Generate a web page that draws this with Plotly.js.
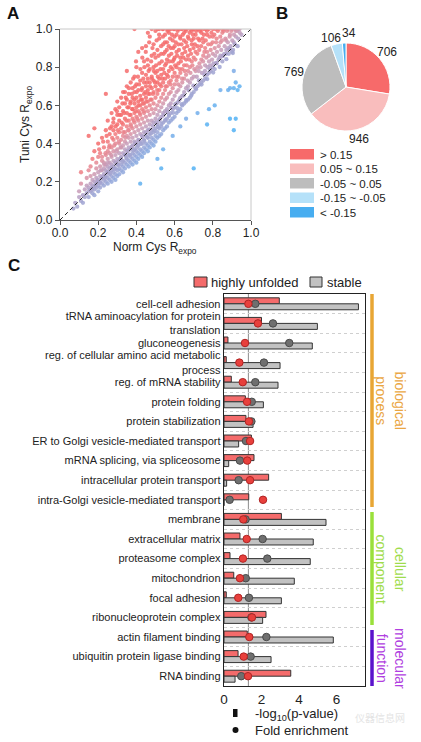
<!DOCTYPE html>
<html><head><meta charset="utf-8">
<script src="https://cdn.plot.ly/plotly-3.0.1.min.js"></script>
<style>html,body{margin:0;padding:0;background:#fff;}#chart{width:421px;height:742px;}</style>
</head><body><div id="chart"></div>
<script>
// ---------- Panel A data: [Norm Cys Rexpo, Tuni Cys Rexpo] ----------
const scatterPoints = [
[0.07,0.06],[0.08,0.09],[0.09,0.07],[0.10,0.12],[0.10,0.15],[0.11,0.10],[0.11,0.19],[0.11,0.25],[0.12,0.13],[0.12,0.09],[0.13,0.16],[0.13,0.12],[0.14,0.18],[0.14,0.14],[0.14,0.22],[0.15,0.12],[0.15,0.17],[0.15,0.44],[0.15,0.26],
[0.16,0.15],[0.16,0.19],[0.16,0.23],[0.16,0.28],[0.17,0.14],[0.17,0.18],[0.17,0.21],[0.17,0.17],[0.17,0.32],[0.18,0.16],[0.18,0.20],[0.18,0.24],[0.18,0.13],[0.18,0.48],[0.18,0.36],[0.19,0.17],[0.19,0.22],[0.19,0.19],[0.19,0.27],[0.19,0.30],[0.20,0.15],[0.20,0.21],[0.20,0.18],[0.20,0.25],[0.20,0.33],[0.20,0.40],
[0.21,0.17],[0.21,0.20],[0.21,0.23],[0.21,0.28],[0.21,0.35],[0.22,0.19],[0.22,0.22],[0.22,0.26],[0.22,0.31],[0.22,0.43],[0.22,0.33],[0.23,0.18],[0.23,0.21],[0.23,0.24],[0.23,0.27],[0.23,0.38],[0.23,0.30],[0.24,0.20],[0.24,0.23],[0.24,0.26],[0.24,0.29],[0.24,0.34],[0.24,0.66],[0.24,0.47],[0.25,0.19],[0.25,0.22],[0.25,0.25],[0.25,0.28],[0.25,0.32],[0.25,0.41],[0.25,0.52],[0.25,0.36],
[0.26,0.21],[0.26,0.24],[0.26,0.27],[0.26,0.30],[0.26,0.35],[0.26,0.45],[0.26,0.39],[0.27,0.20],[0.27,0.23],[0.27,0.26],[0.27,0.29],[0.27,0.33],[0.27,0.38],[0.27,0.49],[0.27,0.56],[0.28,0.22],[0.28,0.25],[0.28,0.28],[0.28,0.31],[0.28,0.36],[0.28,0.42],[0.28,0.47],[0.28,0.53],[0.29,0.21],[0.29,0.24],[0.29,0.27],[0.29,0.30],[0.29,0.34],[0.29,0.40],[0.29,0.45],[0.29,0.58],[0.30,0.23],[0.30,0.26],[0.30,0.29],[0.30,0.32],[0.30,0.37],[0.30,0.43],[0.30,0.50],[0.30,0.55],[0.30,0.62],
[0.31,0.24],[0.31,0.27],[0.31,0.31],[0.31,0.35],[0.31,0.40],[0.31,0.46],[0.31,0.52],[0.31,0.59],[0.32,0.26],[0.32,0.29],[0.32,0.33],[0.32,0.38],[0.32,0.42],[0.32,0.48],[0.32,0.55],[0.32,0.64],[0.33,0.25],[0.33,0.28],[0.33,0.31],[0.33,0.35],[0.33,0.39],[0.33,0.44],[0.33,0.50],[0.33,0.57],[0.33,0.67],[0.34,0.27],[0.34,0.30],[0.34,0.34],[0.34,0.37],[0.34,0.41],[0.34,0.46],[0.34,0.53],[0.34,0.61],[0.34,0.67],[0.35,0.29],[0.35,0.32],[0.35,0.36],[0.35,0.40],[0.35,0.44],[0.35,0.49],[0.35,0.56],[0.35,0.63],[0.35,0.70],[0.35,0.78],
[0.36,0.28],[0.36,0.31],[0.36,0.34],[0.36,0.38],[0.36,0.43],[0.36,0.47],[0.36,0.52],[0.36,0.59],[0.36,0.66],[0.37,0.30],[0.37,0.33],[0.37,0.37],[0.37,0.41],[0.37,0.45],[0.37,0.50],[0.37,0.55],[0.37,0.62],[0.37,0.72],[0.38,0.29],[0.38,0.32],[0.38,0.35],[0.38,0.39],[0.38,0.43],[0.38,0.48],[0.38,0.53],[0.38,0.58],[0.38,0.64],[0.38,0.69],[0.39,0.31],[0.39,0.34],[0.39,0.37],[0.39,0.41],[0.39,0.46],[0.39,0.51],[0.39,0.56],[0.39,0.61],[0.39,0.67],[0.39,0.75],[0.39,1.0],[0.40,0.30],[0.40,0.33],[0.40,0.36],[0.40,0.40],[0.40,0.44],[0.40,0.49],[0.40,0.54],[0.40,0.59],[0.40,0.64],[0.40,0.71],[0.40,0.80],
[0.41,0.32],[0.41,0.35],[0.41,0.39],[0.41,0.42],[0.41,0.47],[0.41,0.52],[0.41,0.57],[0.41,0.62],[0.41,0.68],[0.41,0.88],[0.42,0.34],[0.42,0.37],[0.42,0.41],[0.42,0.45],[0.42,0.50],[0.42,0.55],[0.42,0.60],[0.42,0.65],[0.42,0.73],[0.42,0.19],[0.43,0.33],[0.43,0.36],[0.43,0.40],[0.43,0.44],[0.43,0.48],[0.43,0.53],[0.43,0.58],[0.43,0.63],[0.43,0.69],[0.43,0.77],[0.43,0.90],[0.44,0.35],[0.44,0.38],[0.44,0.42],[0.44,0.46],[0.44,0.51],[0.44,0.56],[0.44,0.61],[0.44,0.66],[0.44,0.72],[0.44,0.83],[0.45,0.37],[0.45,0.40],[0.45,0.44],[0.45,0.49],[0.45,0.54],[0.45,0.59],[0.45,0.64],[0.45,0.70],[0.45,0.76],[0.45,0.91],
[0.46,0.36],[0.46,0.39],[0.46,0.43],[0.46,0.47],[0.46,0.52],[0.46,0.57],[0.46,0.62],[0.46,0.68],[0.46,0.74],[0.46,0.81],[0.46,0.98],[0.47,0.38],[0.47,0.41],[0.47,0.45],[0.47,0.50],[0.47,0.55],[0.47,0.60],[0.47,0.66],[0.47,0.72],[0.47,0.79],[0.47,0.96],[0.48,0.40],[0.48,0.43],[0.48,0.47],[0.48,0.52],[0.48,0.58],[0.48,0.63],[0.48,0.69],[0.48,0.75],[0.48,0.86],[0.48,1.0],[0.49,0.39],[0.49,0.42],[0.49,0.46],[0.49,0.51],[0.49,0.56],[0.49,0.61],[0.49,0.67],[0.49,0.73],[0.49,0.80],[0.49,0.92],[0.50,0.41],[0.50,0.44],[0.50,0.48],[0.50,0.53],[0.50,0.58],[0.50,0.64],[0.50,0.70],[0.50,0.77],[0.50,0.85],[0.50,0.99],
[0.51,0.43],[0.51,0.46],[0.51,0.50],[0.51,0.55],[0.51,0.60],[0.51,0.66],[0.51,0.72],[0.51,0.78],[0.51,0.89],[0.51,0.32],[0.52,0.44],[0.52,0.48],[0.52,0.52],[0.52,0.57],[0.52,0.62],[0.52,0.68],[0.52,0.74],[0.52,0.82],[0.52,0.95],[0.52,1.0],[0.53,0.45],[0.53,0.49],[0.53,0.54],[0.53,0.59],[0.53,0.64],[0.53,0.70],[0.53,0.76],[0.53,0.87],[0.53,0.27],[0.54,0.47],[0.54,0.51],[0.54,0.56],[0.54,0.61],[0.54,0.66],[0.54,0.72],[0.54,0.79],[0.54,0.92],[0.54,0.37],[0.54,1.0],[0.55,0.48],[0.55,0.52],[0.55,0.57],[0.55,0.63],[0.55,0.68],[0.55,0.74],[0.55,0.81],[0.55,0.88],[0.55,0.97],
[0.56,0.49],[0.56,0.53],[0.56,0.58],[0.56,0.64],[0.56,0.70],[0.56,0.76],[0.56,0.84],[0.56,0.93],[0.56,1.0],[0.57,0.51],[0.57,0.55],[0.57,0.60],[0.57,0.66],[0.57,0.72],[0.57,0.78],[0.57,0.86],[0.57,0.98],[0.58,0.52],[0.58,0.56],[0.58,0.61],[0.58,0.67],[0.58,0.73],[0.58,0.80],[0.58,0.90],[0.58,1.0],[0.59,0.53],[0.59,0.58],[0.59,0.63],[0.59,0.69],[0.59,0.75],[0.59,0.83],[0.59,0.94],[0.59,0.44],[0.60,0.54],[0.60,0.59],[0.60,0.65],[0.60,0.71],[0.60,0.77],[0.60,0.85],[0.60,0.91],[0.60,1.0],
[0.61,0.56],[0.61,0.61],[0.61,0.67],[0.61,0.73],[0.61,0.80],[0.61,0.88],[0.61,0.97],[0.62,0.57],[0.62,0.62],[0.62,0.68],[0.62,0.75],[0.62,0.82],[0.62,0.92],[0.62,1.0],[0.63,0.58],[0.63,0.64],[0.63,0.70],[0.63,0.77],[0.63,0.85],[0.63,0.95],[0.63,0.49],[0.64,0.60],[0.64,0.65],[0.64,0.72],[0.64,0.79],[0.64,0.87],[0.64,1.0],[0.65,0.61],[0.65,0.67],[0.65,0.74],[0.65,0.81],[0.65,0.90],[0.65,0.98],
[0.66,0.62],[0.66,0.69],[0.66,0.76],[0.66,0.84],[0.66,0.93],[0.66,0.53],[0.66,1.0],[0.67,0.63],[0.67,0.70],[0.67,0.78],[0.67,0.86],[0.67,0.96],[0.68,0.64],[0.68,0.72],[0.68,0.80],[0.68,0.89],[0.68,1.0],[0.69,0.66],[0.69,0.74],[0.69,0.83],[0.69,0.92],[0.69,0.99],[0.70,0.67],[0.70,0.75],[0.70,0.85],[0.70,0.95],[0.70,0.27],[0.70,1.0],
[0.71,0.69],[0.71,0.78],[0.71,0.88],[0.71,0.97],[0.72,0.56],[0.72,0.70],[0.72,0.80],[0.72,0.91],[0.72,1.0],[0.73,0.71],[0.73,0.82],[0.73,0.94],[0.74,0.72],[0.74,0.84],[0.74,0.98],[0.75,0.73],[0.75,0.86],[0.75,0.93],[0.75,1.0],[0.76,0.74],[0.76,0.81],[0.76,0.90],[0.77,0.50],[0.77,0.76],[0.77,0.88],[0.77,0.97],[0.78,0.58],[0.78,0.77],[0.78,0.83],[0.78,1.0],[0.79,0.78],[0.79,0.92],[0.80,0.80],[0.80,0.87],[0.80,0.96],[0.80,1.0],
[0.81,0.60],[0.81,0.79],[0.81,0.90],[0.82,0.82],[0.82,0.95],[0.83,0.84],[0.83,1.0],[0.84,0.68],[0.84,0.86],[0.84,0.93],[0.85,0.83],[0.85,0.98],[0.86,0.87],[0.86,1.0],[0.87,0.87],[0.87,0.94],[0.88,0.68],[0.88,0.90],[0.89,0.53],[0.89,0.69],[0.89,0.97],[0.90,0.88],[0.90,1.0],[0.91,0.47],[0.91,0.78],[0.91,0.69],[0.91,0.93],[0.92,0.53],[0.92,0.72],[0.92,0.99],[0.93,0.68],[0.93,0.91],[0.94,0.70],[0.94,1.0],[0.95,0.97]
];
const scatterPointsExtra = [
[0.205,0.37],[0.213,0.26],[0.226,0.41],[0.232,0.29],[0.238,0.35],[0.244,0.44],[0.251,0.30],[0.257,0.38],[0.262,0.48],[0.268,0.34],[0.273,0.43],[0.279,0.51],[0.284,0.39],[0.291,0.49],[0.296,0.36],[0.298,0.57],
[0.303,0.47],[0.308,0.41],[0.312,0.55],[0.317,0.38],[0.323,0.51],[0.327,0.61],[0.331,0.46],[0.336,0.56],[0.342,0.43],[0.344,0.64],[0.348,0.52],[0.353,0.59],[0.357,0.47],[0.361,0.69],[0.364,0.55],[0.368,0.61],[0.372,0.49],[0.376,0.66],[0.379,0.58],[0.383,0.74],[0.386,0.52],[0.389,0.63],[0.393,0.70],[0.396,0.57],[0.398,0.83],
[0.402,0.67],[0.405,0.53],[0.408,0.75],[0.411,0.60],[0.414,0.71],[0.417,0.56],[0.421,0.79],[0.424,0.63],[0.427,0.68],[0.431,0.85],[0.434,0.61],[0.436,0.74],[0.439,0.57],[0.442,0.80],[0.446,0.67],[0.449,0.88],[0.452,0.62],[0.455,0.72],[0.458,0.84],[0.461,0.66],[0.464,0.78],[0.467,0.93],[0.471,0.70],[0.474,0.63],[0.477,0.83],[0.481,0.74],[0.484,0.90],[0.487,0.66],[0.491,0.78],[0.494,0.87],[0.497,0.72],
[0.503,0.81],[0.506,0.94],[0.509,0.68],[0.512,0.75],[0.516,0.86],[0.519,0.97],[0.523,0.71],[0.526,0.79],[0.529,0.91],[0.533,0.83],[0.536,0.74],[0.539,0.96],[0.543,0.87],[0.546,0.77],[0.549,0.93],[0.553,0.70],[0.556,0.82],[0.559,0.89],[0.563,0.99],[0.566,0.75],[0.569,0.91],[0.573,0.83],[0.576,0.95],[0.579,0.71],[0.583,0.87],[0.586,0.97],[0.589,0.79],[0.593,0.90],[0.596,0.84],[0.599,0.96],
[0.603,0.81],[0.606,0.93],[0.609,0.75],[0.613,0.86],[0.616,0.99],[0.619,0.71],[0.623,0.89],[0.626,0.79],[0.629,0.96],[0.633,0.83],[0.636,0.92],[0.639,0.74],[0.643,0.97],[0.646,0.85],[0.649,0.94],[0.653,0.78],[0.656,0.88],[0.659,0.99],[0.663,0.81],[0.666,0.91],[0.669,0.73],[0.673,0.95],[0.676,0.84],[0.679,0.98],[0.683,0.77],[0.686,0.87],[0.689,0.94],[0.693,0.81],[0.696,0.97],[0.699,0.90],
[0.703,0.79],[0.706,0.92],[0.709,0.84],[0.713,0.99],[0.716,0.75],[0.719,0.87],[0.723,0.95],[0.726,0.78],[0.729,0.89],[0.733,0.99],[0.736,0.80],[0.739,0.91],[0.743,0.77],[0.746,0.95],[0.749,0.83],[0.753,0.97],[0.756,0.88],[0.759,0.78],[0.763,0.94],[0.766,0.85],[0.769,0.99],[0.773,0.80],[0.776,0.92],[0.779,0.86],[0.783,0.96],[0.786,0.81],[0.789,0.89],[0.793,0.98],[0.796,0.84],[0.799,0.93],
[0.804,0.82],[0.808,0.97],[0.813,0.86],[0.817,0.93],[0.822,0.88],[0.826,0.99],[0.831,0.91],[0.835,0.85],[0.839,0.96],[0.844,0.89],[0.848,0.94],[0.853,0.86],[0.857,0.99],[0.862,0.91],[0.866,0.95],[0.871,0.89],[0.875,0.99],[0.879,0.93],[0.884,0.87],[0.888,0.96],[0.893,0.91],[0.897,0.99],[0.902,0.94],[0.906,0.89],[0.911,0.97],[0.916,0.92],[0.921,0.96],[0.927,0.99],[0.933,0.95],[0.941,0.98],
[0.153,0.155],[0.167,0.162],[0.184,0.178],[0.196,0.201],[0.209,0.195],[0.224,0.227],[0.236,0.221],[0.248,0.251],[0.263,0.247],[0.271,0.275],[0.286,0.268],[0.293,0.302],[0.306,0.288],[0.318,0.322],[0.326,0.305],[0.339,0.341],[0.347,0.326],[0.358,0.362],[0.366,0.341],[0.377,0.384],[0.385,0.364],[0.394,0.402],[0.403,0.381],[0.412,0.418],[0.423,0.398],[0.432,0.437],[0.441,0.414],[0.451,0.458],[0.459,0.433],[0.468,0.474],[0.476,0.452],[0.486,0.492],[0.495,0.468],[0.504,0.511],[0.513,0.487],[0.522,0.528],[0.531,0.503],[0.541,0.547],[0.552,0.524],[0.561,0.566],[0.571,0.545],[0.582,0.588],[0.592,0.561],[0.603,0.607],[0.614,0.585],[0.626,0.631],[0.637,0.606],[0.648,0.652],[0.661,0.628],[0.674,0.679],[0.687,0.651],[0.698,0.703],[0.712,0.684],[0.727,0.731],[0.741,0.709],[0.756,0.761],[0.771,0.738],[0.785,0.789],[0.802,0.772],[0.818,0.823],[0.836,0.801],[0.852,0.858],[0.871,0.842],[0.889,0.893],[0.905,0.874],
[0.512,1.0],[0.537,1.0],[0.571,1.0],[0.594,1.0],[0.633,1.0],[0.655,1.0],[0.694,1.0],[0.736,1.0],[0.762,1.0],[0.814,1.0],[0.848,1.0],[0.879,1.0],[0.916,1.0],[0.932,1.0]
];
const allPoints = scatterPoints.concat(scatterPointsExtra);
const normCys = allPoints.map(p => p[0]);
const tuniCys = allPoints.map(p => p[1]);
const diagonalLine = [0, 1];
const axisTicksA = [0, 0.2, 0.4, 0.6, 0.8, 1.0];

// ---------- Panel B data ----------
const pieLabels = ["> 0.15", "0.05 ~ 0.15", "-0.05 ~ 0.05", "-0.15 ~ -0.05", "< -0.15"];
const pieLegendText = ["&gt; 0.15", "0.05 ~ 0.15", "-0.05 ~ 0.05", "-0.15 ~ -0.05", "&lt; -0.15"];
const pieValues = [706, 946, 769, 106, 34];
const pieColors = ["#f76a6a", "#f9bdbd", "#bdbdbd", "#b5e1f9", "#47adf0"];

// ---------- Panel C data ----------
const goTerms = [
  "cell-cell adhesion",
  "tRNA aminoacylation for protein<br>translation",
  "gluconeogenesis",
  "reg. of cellular amino acid metabolic<br>process",
  "reg. of mRNA stability",
  "protein folding",
  "protein stabilization",
  "ER to Golgi vesicle-mediated transport",
  "mRNA splicing, via spliceosome",
  "intracellular protein transport",
  "intra-Golgi vesicle-mediated transport",
  "membrane",
  "extracellular matrix",
  "proteasome complex",
  "mitochondrion",
  "focal adhesion",
  "ribonucleoprotein complex",
  "actin filament binding",
  "ubiquitin protein ligase binding",
  "RNA binding"
];
const unfoldedLogP = [2.95, 2.0, 0.21, 0.12, 0.39, 1.14, 1.17, 1.46, 1.6, 2.38, 1.32, 3.06, 0.85, 0.32, 0.52, 0.12, 2.24, 1.24, 0.75, 3.56];
const stableLogP   = [7.17, 4.98, 4.71, 2.99, 2.88, 2.1, 1.55, 0.78, 0.25, 0.14, 0, 5.44, 4.76, 4.6, 3.75, 3.06, 2.06, 5.83, 2.51, 0.59];
const unfoldedFE   = [1.3, 1.81, 1.12, 0.82, 1.0, 1.23, 1.33, 1.39, 1.24, 1.39, 2.08, 1.03, 1.21, 1.01, 0.85, 0.76, 1.49, 1.35, 1.05, 1.28];
const stableFE     = [1.67, 2.61, 3.48, 2.13, 1.67, 1.48, 1.46, 1.17, 0.85, 0.78, 0.3, 1.15, 2.06, 2.31, 1.16, 1.33, 1.46, 2.26, 1.42, 0.92];
const pThreshold = 1.3;
const axisTicksC = [0, 2, 4, 6];
const goGroups = ["biological<br>process", "cellular<br>component", "molecular<br>function"];
const seriesNames = ["highly unfolded", "stable"];

// ---------- layout helpers (pixels -> paper) ----------
const W = 421, H = 742;
const px = v => v / W;
const py = v => 1 - v / H;
const FONT = "Liberation Sans, Arial, sans-serif";
const C_RED = "#f46b6b", C_GRAY = "#c2c2c2";

const traces = [];

// Panel A scatter
traces.push({
  type: "scatter", mode: "markers", x: normCys, y: tuniCys, xaxis: "x", yaxis: "y",
  marker: {
    size: 4.3, opacity: 0.85,
    color: allPoints.map(p => p[1] - p[0]),
    cmin: -0.3, cmax: 0.2,
    colorscale: [[0, "#52b2f4"], [0.3, "#74aeea"], [0.44, "#90a8dc"], [0.6, "#aaa2cc"], [0.7, "#c89cb8"], [0.8, "#e28c9a"], [0.9, "#f07c80"], [1, "#f46c6c"]],
    showscale: false
  },
  showlegend: false, hoverinfo: "skip"
});
traces.push({
  type: "scatter", mode: "lines", x: diagonalLine, y: diagonalLine, xaxis: "x", yaxis: "y",
  line: {color: "#222", width: 1, dash: "4px,3px"}, showlegend: false, hoverinfo: "skip"
});

// Panel B pie (value labels drawn as annotations computed from the values)
const pieDomX = [302, 390], pieDomY = [43, 131];
traces.push({
  type: "pie", labels: pieLabels, values: pieValues, sort: false, direction: "clockwise", rotation: 0,
  marker: {colors: pieColors, line: {color: "#ffffff", width: 1}},
  textinfo: "none", automargin: false,
  domain: {x: [px(pieDomX[0]), px(pieDomX[1])], y: [py(pieDomY[1]), py(pieDomY[0])]},
  showlegend: false, hoverinfo: "skip"
});

// Panel C bars
traces.push({
  type: "bar", orientation: "h", x: unfoldedLogP, y: goTerms, xaxis: "x2", yaxis: "y2", name: seriesNames[0],
  marker: {color: C_RED, line: {color: "#333", width: 1}}, showlegend: false, hoverinfo: "skip"
});
traces.push({
  type: "bar", orientation: "h", x: stableLogP, y: goTerms, xaxis: "x2", yaxis: "y2", name: seriesNames[1],
  marker: {color: C_GRAY, line: {color: "#333", width: 1}}, showlegend: false, hoverinfo: "skip"
});
traces.push({
  type: "scatter", mode: "markers", x: stableFE, y: goTerms, xaxis: "x2", yaxis: "y2",
  marker: {size: 7.5, color: "#6f6f6f", line: {color: "#4a4a4a", width: 1}}, showlegend: false, hoverinfo: "skip", cliponaxis: false
});
traces.push({
  type: "scatter", mode: "markers", x: unfoldedFE, y: goTerms, xaxis: "x2", yaxis: "y2",
  marker: {size: 7.5, color: "#e8403c", line: {color: "#b02424", width: 1}}, showlegend: false, hoverinfo: "skip", cliponaxis: false
});

const shapes = [];
const annotations = [];

// pie value labels, placed radially outside each slice (small nudges keep the two thin-slice labels apart)
(function () {
  const cx = (pieDomX[0] + pieDomX[1]) / 2, cy = (pieDomY[0] + pieDomY[1]) / 2;
  const r = (pieDomX[1] - pieDomX[0]) / 2 + 10;
  const total = pieValues.reduce((a, b) => a + b, 0);
  const nudge = [[0, 0], [0, 0], [0, 0], [-4, 4], [5, 0]];
  let cum = 0;
  pieValues.forEach((v, i) => {
    const mid = (cum + v / 2) / total * 2 * Math.PI;
    cum += v;
    annotations.push({xref: "paper", yref: "paper", x: px(cx + r * Math.sin(mid) + nudge[i][0]), y: py(cy - r * Math.cos(mid) + nudge[i][1]),
      text: String(v), showarrow: false, xanchor: "center", yanchor: "middle", font: {size: 12, color: "#222", family: FONT}});
  });
})();

// Panel A light frame (top/right)
shapes.push({type: "line", xref: "paper", yref: "paper", x0: px(60), x1: px(251), y0: py(29), y1: py(29), line: {color: "#c8c8c8", width: 1}});
shapes.push({type: "line", xref: "paper", yref: "paper", x0: px(251), x1: px(251), y0: py(29), y1: py(220), line: {color: "#c8c8c8", width: 1}});

// significance line C
shapes.push({type: "line", xref: "x2", yref: "paper", x0: pThreshold, x1: pThreshold, y0: py(686), y1: py(294), line: {color: "#8c8c8c", width: 1}, layer: "below"});

// pie legend
const legRows = [149, 163.5, 178, 192.5, 207];
pieLegendText.forEach((t, i) => {
  shapes.push({type: "rect", xref: "paper", yref: "paper", x0: px(290), x1: px(314), y0: py(legRows[i] + 10.5), y1: py(legRows[i]), fillcolor: pieColors[i], line: {width: 0}});
  annotations.push({xref: "paper", yref: "paper", x: px(318), y: py(legRows[i] + 5.5), text: t, showarrow: false, xanchor: "left", yanchor: "middle", font: {size: 11.5, color: "#222", family: FONT}});
});

// Panel C top legend
shapes.push({type: "rect", xref: "paper", yref: "paper", x0: px(194), x1: px(207), y0: py(287), y1: py(277), fillcolor: C_RED, line: {color: "#333", width: 1}});
shapes.push({type: "rect", xref: "paper", yref: "paper", x0: px(310), x1: px(322), y0: py(287), y1: py(277), fillcolor: C_GRAY, line: {color: "#333", width: 1}});
annotations.push({xref: "paper", yref: "paper", x: px(209), y: py(282), text: seriesNames[0], showarrow: false, xanchor: "left", yanchor: "middle", font: {size: 13, color: "#222", family: FONT}});
annotations.push({xref: "paper", yref: "paper", x: px(325), y: py(282), text: seriesNames[1], showarrow: false, xanchor: "left", yanchor: "middle", font: {size: 13, color: "#222", family: FONT}});

// Panel C bottom legend
shapes.push({type: "rect", xref: "paper", yref: "paper", x0: px(233), x1: px(237.5), y0: py(717), y1: py(709), fillcolor: "#111", line: {width: 0}});
shapes.push({type: "circle", xref: "paper", yref: "paper", x0: px(232.5), x1: px(238.5), y0: py(733), y1: py(727), fillcolor: "#111", line: {width: 0}});
annotations.push({xref: "paper", yref: "paper", x: px(253), y: py(714), text: "-log<sub>10</sub>(p-value)", showarrow: false, xanchor: "left", yanchor: "middle", font: {size: 13, color: "#222", family: FONT}});
annotations.push({xref: "paper", yref: "paper", x: px(253), y: py(730), text: "Fold enrichment", showarrow: false, xanchor: "left", yanchor: "middle", font: {size: 13, color: "#222", family: FONT}});

// group brackets
const bracketSpans = [[294, 507], [512, 625], [630, 686]];
const bracketLine = ["#e8a634", "#9ae03a", "#5a12cc"];
const bracketText = ["#eaa642", "#9fdc4c", "#b03ee0"];
goGroups.forEach((g, i) => {
  const [a, b] = bracketSpans[i];
  shapes.push({type: "line", xref: "paper", yref: "paper", x0: px(372), x1: px(372), y0: py(a), y1: py(b), line: {color: bracketLine[i], width: 3.5}});
  annotations.push({xref: "paper", yref: "paper", x: px(391), y: py((a + b) / 2), text: g, textangle: 90, showarrow: false, xanchor: "center", yanchor: "middle", font: {size: 14, color: bracketText[i], family: FONT}});
});

// panel letters
[["A", 13, 14], ["B", 282, 14], ["C", 14, 266]].forEach(([t, x, y]) => {
  annotations.push({xref: "paper", yref: "paper", x: px(x), y: py(y), text: "<b>" + t + "</b>", showarrow: false, xanchor: "center", yanchor: "middle", font: {size: 17, color: "#111", family: FONT}});
});

// axis titles panel A
annotations.push({xref: "paper", yref: "paper", x: px(155), y: py(248), text: "Norm Cys R<sub>expo</sub>", showarrow: false, xanchor: "center", yanchor: "middle", font: {size: 12, color: "#222", family: FONT}});
annotations.push({xref: "paper", yref: "paper", x: px(26), y: py(125), text: "Tuni Cys R<sub>expo</sub>", textangle: -90, showarrow: false, xanchor: "center", yanchor: "middle", font: {size: 12, color: "#222", family: FONT}});

// watermark
annotations.push({xref: "paper", yref: "paper", x: px(380), y: py(717), text: "仪器信息网", showarrow: false, xanchor: "center", yanchor: "middle", font: {size: 10, color: "#e4e4e4", family: "Noto Sans CJK SC"}});

const layout = {
  width: W, height: H, margin: {l: 0, r: 0, t: 0, b: 0}, paper_bgcolor: "#fff", plot_bgcolor: "rgba(0,0,0,0)",
  font: {family: FONT, color: "#222"}, showlegend: false,
  bargap: 0.39, bargroupgap: 0, barmode: "group",
  xaxis: {domain: [px(60), px(251)], range: [0, 1], anchor: "y", tickvals: axisTicksA, tickformat: ".1f",
          ticks: "outside", ticklen: 4, tickcolor: "#555", showline: true, linecolor: "#555", linewidth: 1.2,
          showgrid: false, zeroline: false, tickfont: {size: 12, color: "#222"}, ticklabelstandoff: -3},
  yaxis: {domain: [py(220), py(29)], range: [0, 1], anchor: "x", tickvals: axisTicksA, tickformat: ".1f",
          ticks: "outside", ticklen: 4, tickcolor: "#555", showline: true, linecolor: "#555", linewidth: 1.2,
          showgrid: false, zeroline: false, tickfont: {size: 12, color: "#222"}},
  xaxis2: {domain: [px(224), px(224 + 7.5 * 18.75)], range: [0, 7.5], anchor: "y2", tickvals: axisTicksC,
           ticks: "", showline: true, mirror: true, linecolor: "#222", linewidth: 1.3,
           showgrid: false, zeroline: false, tickfont: {size: 13.5, color: "#222"}},
  yaxis2: {domain: [py(686), py(294)], anchor: "x2", type: "category", categoryorder: "array", categoryarray: goTerms,
           range: [goTerms.length - 0.5, -0.5], tickson: "boundaries", ticks: "", showline: true, mirror: true,
           linecolor: "#222", linewidth: 1.3, showgrid: true, gridcolor: "#cfcfcf", griddash: "3px,3px", gridwidth: 1,
           zeroline: false, tickfont: {size: 11, color: "#222"}, ticklabelstandoff: 0},
  shapes, annotations
};

Plotly.newPlot("chart", traces, layout, {displayModeBar: false, staticPlot: true});
</script>
</body></html>
